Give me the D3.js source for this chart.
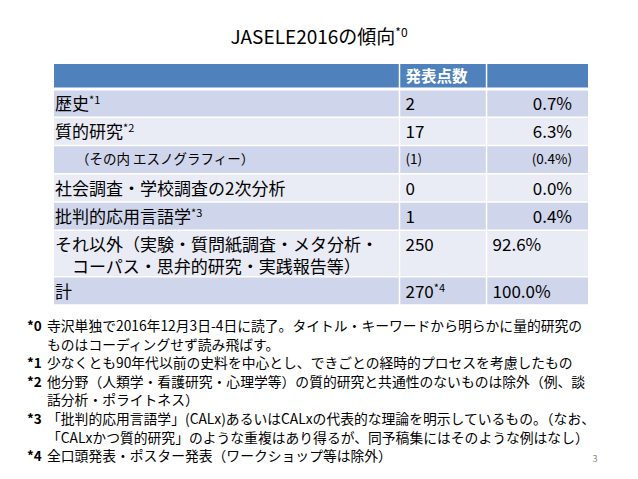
<!DOCTYPE html><html><head><meta charset="utf-8">
<script src="https://cdn.jsdelivr.net/npm/d3@7"></script>
<style>body{margin:0;background:#fff}text{font-family:"Noto Sans CJK JP","Noto Sans",sans-serif}</style></head><body>
<svg id="c" width="638" height="479"></svg>
<script>
const categories=[["歴史","*1"],["質的研究","*2"],["（その内 エスノグラフィー）",""],["社会調査・学校調査の2次分析",""],["批判的応用言語学","*3"],["それ以外（実験・質問紙調査・メタ分析・|　コーパス・思弁的研究・実践報告等）",""],["計",""]];
const counts=["2","17","(1)","0","1","250","270"];
const countSup=["","","","","","","*4"];
const percents=["0.7%","6.3%","(0.4%)","0.0%","0.4%","92.6%","100.0%"];
const rowUnits=[1,1,1,1,1,1.65,1];
const notes=[["*0","寺沢単独で2016年12月3日-4日に読了。タイトル・キーワードから明らかに量的研究の"],["","ものはコーディングせず読み飛ばす。"],["*1","少なくとも90年代以前の史料を中心とし、できごとの経時的プロセスを考慮したもの"],["*2","他分野（人類学・看護研究・心理学等）の質的研究と共通性のないものは除外（例、談"],["","話分析・ポライトネス）"],["*3","「批判的応用言語学」(CALx)あるいはCALxの代表的な理論を明示しているもの。（なお、"],["","「CALxかつ質的研究」のような重複はあり得るが、同予稿集にはそのような例はなし）"],["*4","全口頭発表・ポスター発表（ワークショップ等は除外）"]];
const svg=d3.select("#c");
svg.append("text").attr("x",319).attr("y",44).attr("text-anchor","middle").attr("font-size",19).attr("fill","#000").text("JASELE2016の傾向").append("tspan").attr("font-size",12).attr("dy",-7).text("*0");
const x=d3.scaleLinear().domain([0,1]).range([54,588]);
const cols=[0,0.647,0.81,1];
const cum=[0];rowUnits.forEach(u=>cum.push(cum[cum.length-1]+u));
const y=d3.scaleLinear().domain([0,cum[cum.length-1]]).range([89,305]);
const g=svg.append("g");
g.append("rect").attr("x",x(0)).attr("y",64).attr("width",x(1)-x(0)).attr("height",25).attr("fill","#4F81BD");
g.append("text").attr("x",x(cols[1])+6).attr("y",82).attr("font-size",15.5).attr("font-weight","bold").attr("fill","#fff").text("発表点数");
categories.forEach((c,i)=>{
  const y0=y(cum[i]),y1=y(cum[i+1]);
  g.append("rect").attr("x",x(0)).attr("y",y0).attr("width",x(1)-x(0)).attr("height",y1-y0).attr("fill",i%2==0?"#CFD5EA":"#E9EBF5");
  const small=i==2, fs=small?13.5:17, ty=y0+(small?19:21);
  const lines=c[0].split("|");
  lines.forEach((l,k)=>{
    const t=g.append("text").attr("x",x(0)+(small?22:1)).attr("y",ty+k*22).attr("font-size",fs).attr("fill","#000").text(l);
    if(k==0&&c[1]) t.append("tspan").attr("font-size",11).attr("dy",-6).text(c[1]);
  });
  const ct=g.append("text").attr("x",x(cols[1])+6).attr("y",ty).attr("font-size",fs).attr("fill","#000").text(counts[i]);
  if(countSup[i]) ct.append("tspan").attr("font-size",11).attr("dy",-6).text(countSup[i]);
  g.append("text").attr("x",i==5||i==6?x(cols[2])+6:x(1)-16).attr("y",ty).attr("text-anchor",i==5||i==6?"start":"end").attr("font-size",fs).attr("fill","#000").text(percents[i]);
});
d3.range(cum.length).forEach(i=>g.append("line").attr("x1",x(0)).attr("x2",x(1)).attr("y1",y(cum[i])).attr("y2",y(cum[i])).attr("stroke","#fff").attr("stroke-width",i==0?3:1.5));
[1,2].forEach(j=>g.append("line").attr("x1",x(cols[j])).attr("x2",x(cols[j])).attr("y1",64).attr("y2",305).attr("stroke","#fff").attr("stroke-width",1.5));
notes.forEach((n,i)=>{
  const yy=331+i*18.6;
  svg.append("text").attr("x",27).attr("y",yy).attr("font-size",13.5).attr("font-weight","bold").text(n[0]);
  svg.append("text").attr("x",47).attr("y",yy).attr("font-size",13.8).text(n[1]);
});
svg.append("text").attr("x",595).attr("y",462).attr("font-size",9).attr("fill","#888").attr("text-anchor","middle").text("3");
</script></body></html>
